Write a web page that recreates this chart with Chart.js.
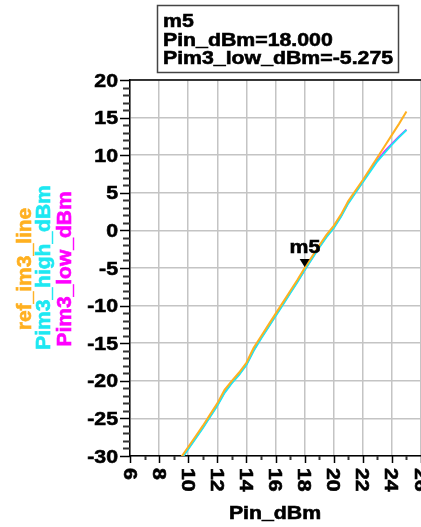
<!DOCTYPE html>
<html>
<head>
<meta charset="utf-8">
<script src="https://cdn.jsdelivr.net/npm/chart.js@4.4.1/dist/chart.umd.min.js"></script>
<style>
    html, body { margin: 0; padding: 0; background: #fff; }
    canvas { display: block; }
</style>
</head>
<body>
<canvas id="chart" width="421" height="527"></canvas>
<script>
// swept input power (x) and the three traces
const pinDbm = [9, 9.5, 10, 10.5, 11, 11.5, 12, 12.5, 13, 13.5, 14, 14.5, 15, 15.5, 16, 16.5,
    17, 17.5, 18, 18.5, 19, 19.5, 20, 20.5, 21, 21.5, 22, 22.5, 23, 23.5, 24, 24.5, 25];
const refIm3 = [-31.4, -30.2, -28.8, -27.4, -26.0, -24.5, -23.0, -21.2, -20.0, -18.9, -17.6, -15.6,
    -14.1, -12.6, -11.1, -9.6, -8.1, -6.6, -5.0, -3.5, -2.0, -0.6, 0.6, 2.1, 3.9, 5.3, 6.7, 8.2,
    9.7, 11.2, 12.7, 14.2, 15.8];
const pim3High = [-31.7, -30.5, -29.1, -27.7, -26.3, -24.8, -23.3, -21.6, -20.3, -19.2, -17.9, -16.0,
    -14.4, -12.9, -11.4, -9.9, -8.4, -6.9, -5.3, -3.8, -2.3, -0.9, 0.3, 1.8, 3.6, 5.0, 6.4, 7.8,
    9.2, 10.3, 11.4, 12.4, 13.35];
const pim3Low = [-31.6, -30.4, -29.0, -27.6, -26.2, -24.7, -23.2, -21.5, -20.2, -19.1, -17.8, -15.9,
    -14.3, -12.8, -11.3, -9.8, -8.3, -6.8, -5.275, -3.7, -2.2, -0.8, 0.4, 1.9, 3.7, 5.1, 6.5, 8.0,
    9.3, 10.5, 11.5, 12.5, 13.4];

const xTickLabels = ['6', '8', '10', '12', '14', '16', '18', '20', '22', '24', '26'];
const yTickLabels = ['20', '15', '10', '5', '0', '-5', '-10', '-15', '-20', '-25', '-30'];
const seriesNames = ['ref_im3_line', 'Pim3_high_dBm', 'Pim3_low_dBm'];

const markerName = 'm5';
const markerPin = 18.0;
const markerLow = -5.275;

const ORANGE = '#ffb020';
const CYAN = '#1ee8f2';
const MAGENTA = '#ff00ff';
const FONT = '"Liberation Sans", Arial, sans-serif';

function pts(ys) {
    return pinDbm.map((x, i) => ({ x: x, y: ys[i] }));
}

// text with the slightly wide, heavy look of the original
function txt(ctx, s, x, y, size, color, align, angle, stretch) {
    ctx.save();
    ctx.translate(x, y);
    ctx.rotate(angle || 0);
    ctx.scale(stretch || 1.12, 1);
    ctx.font = 'bold ' + size + 'px ' + FONT;
    ctx.fillStyle = color;
    ctx.strokeStyle = color;
    ctx.lineWidth = 0.6;
    ctx.textAlign = align || 'left';
    ctx.textBaseline = 'alphabetic';
    ctx.fillText(s, 0, 0);
    ctx.strokeText(s, 0, 0);
    ctx.restore();
}

const decorations = {
    id: 'decorations',
    afterDraw(chart) {
        const ctx = chart.ctx;
        const xs = chart.scales.x;
        const ys = chart.scales.y;
        const a = chart.chartArea;

        // top frame line
        ctx.save();
        ctx.strokeStyle = '#000';
        ctx.lineWidth = 1.5;
        ctx.beginPath();
        ctx.moveTo(a.left, a.top);
        ctx.lineTo(a.right, a.top);
        ctx.stroke();

        // y ticks (minor every 1, major every 5)
        for (let v = ys.min; v <= ys.max; v++) {
            const py = Math.round(ys.getPixelForValue(v)) + 0.5;
            const major = v % 5 === 0;
            ctx.strokeStyle = major ? '#000' : '#333';
            ctx.lineWidth = major ? 1.5 : 2;
            ctx.beginPath();
            ctx.moveTo(a.left - (major ? 10 : 7), py);
            ctx.lineTo(a.left, py);
            ctx.stroke();
        }
        // x ticks (minor every 1, major every 2)
        for (let v = xs.min; v <= xs.max; v++) {
            const px = Math.round(xs.getPixelForValue(v)) + 0.5;
            const major = v % 2 === 0;
            ctx.strokeStyle = major ? '#000' : '#333';
            ctx.lineWidth = major ? 1.5 : 2;
            ctx.beginPath();
            ctx.moveTo(px, a.bottom);
            ctx.lineTo(px, a.bottom + (major ? 7 : 4));
            ctx.stroke();
        }
        ctx.restore();

        // tick labels
        yTickLabels.forEach(l => {
            txt(ctx, l, 118, ys.getPixelForValue(Number(l)) + 6.5, 19, '#000', 'right');
        });
        xTickLabels.forEach(l => {
            txt(ctx, l, xs.getPixelForValue(Number(l)) - 6.5, 468, 19, '#000', 'left', Math.PI / 2);
        });

        // axis titles
        txt(ctx, 'Pin_dBm', 275, 519, 19, '#000', 'center');
        txt(ctx, seriesNames[0], 31, 269, 21, ORANGE, 'center', -Math.PI / 2, 1);
        txt(ctx, seriesNames[1], 50, 267.5, 21, CYAN, 'center', -Math.PI / 2, 1);
        txt(ctx, seriesNames[2], 71, 269, 21, MAGENTA, 'center', -Math.PI / 2, 1);

        // marker triangle + label
        const mx = xs.getPixelForValue(markerPin);
        const my = ys.getPixelForValue(markerLow);
        ctx.save();
        ctx.fillStyle = '#000';
        ctx.beginPath();
        ctx.moveTo(mx - 5, my - 11);
        ctx.lineTo(mx + 5, my - 11);
        ctx.lineTo(mx, my - 3);
        ctx.closePath();
        ctx.fill();
        ctx.restore();
        txt(ctx, markerName, mx - 15, my - 17, 19, '#000', 'left');

        // marker readout box
        ctx.save();
        ctx.strokeStyle = '#444';
        ctx.lineWidth = 1.5;
        ctx.strokeRect(157.5, 5.5, 241, 67);
        ctx.restore();
        txt(ctx, markerName, 163, 27, 19, '#000');
        txt(ctx, 'Pin_dBm=' + markerPin.toFixed(3), 163, 46, 19, '#000');
        txt(ctx, 'Pim3_low_dBm=' + markerLow.toFixed(3), 163, 64, 19, '#000');
    }
};

new Chart(document.getElementById('chart'), {
    type: 'line',
    data: {
        datasets: [
            { label: seriesNames[0], data: pts(refIm3), borderColor: ORANGE },
            { label: seriesNames[1], data: pts(pim3High), borderColor: CYAN },
            { label: seriesNames[2], data: pts(pim3Low), borderColor: MAGENTA }
        ]
    },
    options: {
        responsive: false,
        devicePixelRatio: 1,
        animation: false,
        layout: { padding: { top: 80, left: 0, right: 0, bottom: 0 } },
        elements: {
            point: { radius: 0 },
            line: { borderWidth: 2, tension: 0 }
        },
        plugins: {
            legend: { display: false },
            tooltip: { enabled: false }
        },
        scales: {
            x: {
                type: 'linear',
                min: 6,
                max: 26,
                ticks: { display: false, stepSize: 2, autoSkip: false },
                grid: { color: '#c4c4c4', lineWidth: 1.5, drawTicks: false },
                border: { color: '#000', width: 1.5 },
                afterFit: s => { s.height = 71; }
            },
            y: {
                min: -30,
                max: 20,
                ticks: { display: false, stepSize: 5, autoSkip: false },
                grid: { color: '#c4c4c4', lineWidth: 1.5, drawTicks: false },
                border: { color: '#000', width: 1.5 },
                afterFit: s => { s.width = 130; }
            }
        }
    },
    plugins: [decorations]
});
</script>
</body>
</html>
